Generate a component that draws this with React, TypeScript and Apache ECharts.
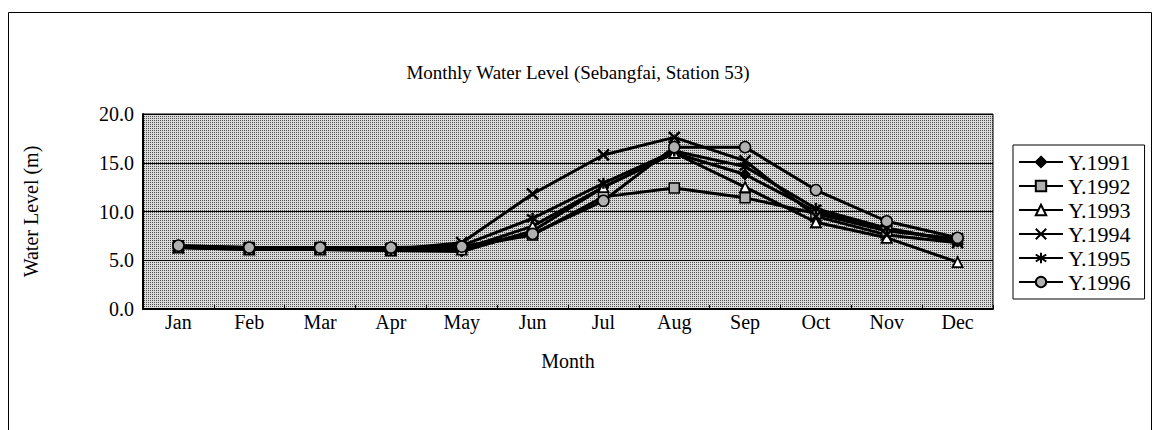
import React, { useEffect, useRef } from "react";
import * as echarts from "echarts";

const months = ["Jan", "Feb", "Mar", "Apr", "May", "Jun", "Jul", "Aug", "Sep", "Oct", "Nov", "Dec"];
const y1991 = [6.3, 6.1, 6.1, 6.0, 5.9, 8.0, 12.5, 16.0, 13.8, 10.0, 8.2, 7.0];
const y1992 = [6.5, 6.3, 6.3, 6.2, 6.3, 7.6, 11.5, 12.4, 11.4, 9.8, 8.0, 7.2];
const y1993 = [6.3, 6.1, 6.1, 6.0, 6.1, 8.5, 12.5, 16.0, 12.5, 8.9, 7.3, 4.8];
const y1994 = [6.3, 6.2, 6.2, 6.1, 6.8, 11.8, 15.8, 17.6, 15.2, 9.5, 7.6, 6.8];
const y1995 = [6.3, 6.2, 6.2, 6.1, 6.5, 9.3, 12.9, 16.2, 14.6, 10.3, 8.3, 6.9];
const y1996 = [6.5, 6.3, 6.3, 6.3, 6.4, 7.7, 11.1, 16.6, 16.6, 12.2, 9.0, 7.3];
const yTicks = [0, 5, 10, 15, 20];

const FONT = "'Times New Roman', 'Liberation Serif', serif";
const X_SYMBOL = "path://M0,0L10,10M10,0L0,10";
const STAR_SYMBOL = "path://M0,1L10,9M10,1L0,9M5,-1L5,11";

export default function App() {
  const ref = useRef<HTMLDivElement>(null);
  useEffect(() => {
    if (!ref.current) return;
    const chart = echarts.init(ref.current, undefined, { renderer: "svg" });
    const cv = document.createElement("canvas");
    cv.width = 2;
    cv.height = 2;
    const ctx = cv.getContext("2d")!;
    ctx.fillStyle = "#dadada";
    ctx.fillRect(0, 0, 2, 2);
    ctx.fillStyle = "#505050";
    ctx.fillRect(0, 0, 1, 1);
    const pattern: any = { image: cv, repeat: "repeat" };

    const base = (name: string, data: number[], symbol: string, fill: string, size: number, bw: number) => ({
      name,
      type: "line",
      data,
      symbol,
      symbolSize: size,
      lineStyle: { color: "#000", width: 3 },
      itemStyle: { color: fill, borderColor: "#000", borderWidth: bw },
      emphasis: { disabled: true },
    });

    chart.setOption({
      animation: false,
      backgroundColor: "#fff",
      title: {
        text: "Monthly Water Level (Sebangfai, Station 53)",
        left: 573,
        top: 58,
        textAlign: "center",
        textStyle: { fontFamily: FONT, fontSize: 19, fontWeight: "normal", color: "#000" },
      },
      legend: {
        orient: "vertical",
        left: 1013,
        top: 145,
        itemGap: 2,
        itemWidth: 44,
        itemHeight: 13,
        padding: [6, 14, 6, 5],
        borderColor: "#000",
        borderWidth: 1,
        textStyle: { fontFamily: FONT, fontSize: 22, color: "#000" },
        data: ["Y.1991", "Y.1992", "Y.1993", "Y.1994", "Y.1995", "Y.1996"],
      },
      graphic: [
        {
          type: "rect",
          shape: { x: 8.5, y: 12.5, width: 1143, height: 430 },
          style: { fill: "none", stroke: "#000", lineWidth: 1 },
          silent: true,
          z: -1,
        },
      ],
      grid: {
        left: 143,
        right: 161,
        top: 114,
        bottom: 121,
        show: true,
        backgroundColor: pattern,
        borderColor: "#000",
        borderWidth: 1,
      },
      xAxis: {
        type: "category",
        data: months,
        boundaryGap: true,
        name: "Month",
        nameLocation: "middle",
        nameGap: 42,
        nameTextStyle: { fontFamily: FONT, fontSize: 20, color: "#000" },
        axisLine: { lineStyle: { color: "#000", width: 2 } },
        axisTick: { show: true, inside: true, length: 4, lineStyle: { color: "#000" } },
        axisLabel: { fontFamily: FONT, fontSize: 20, color: "#000", margin: 3 },
      },
      yAxis: {
        type: "value",
        min: yTicks[0],
        max: yTicks[yTicks.length - 1],
        interval: 5,
        name: "Water Level (m)",
        nameLocation: "middle",
        nameGap: 102,
        nameRotate: 90,
        nameTextStyle: { fontFamily: FONT, fontSize: 20, color: "#000" },
        axisLine: { show: true, lineStyle: { color: "#000", width: 2 } },
        axisTick: { show: false },
        splitLine: { show: true, lineStyle: { color: "#000", width: 1 } },
        axisLabel: {
          fontFamily: FONT,
          fontSize: 20,
          color: "#000",
          margin: 9,
          formatter: (v: number) => v.toFixed(1),
        },
      },
      series: [
        base("Y.1991", y1991, "diamond", "#000", 11, 1),
        base("Y.1992", y1992, "rect", "#b0b0b0", 10, 1.5),
        base("Y.1993", y1993, "triangle", "#fff", 10, 1.8),
        base("Y.1994", y1994, X_SYMBOL, "#000", 11, 2.5),
        base("Y.1995", y1995, STAR_SYMBOL, "#000", 11, 2.5),
        base("Y.1996", y1996, "circle", "#b0b0b0", 11, 1.5),
      ],
    });
    return () => chart.dispose();
  }, []);
  return (
    <div
      ref={ref}
      style={{ position: "fixed", left: 0, top: 0, width: 1154, height: 430, background: "#fff" }}
    />
  );
}
